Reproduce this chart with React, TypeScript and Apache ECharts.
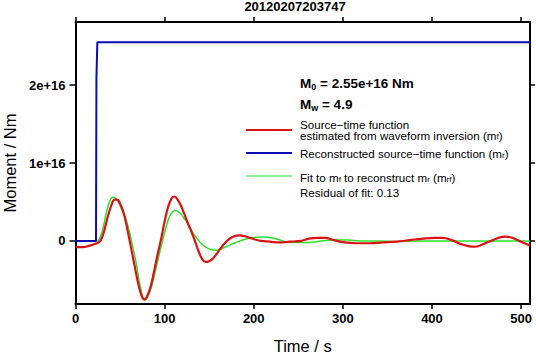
import React, { useEffect, useRef } from "react";
import * as echarts from "echarts";

// Moment values are in units of 1e16 Nm
const stfTime = [0, 8, 16, 24, 28, 32, 36, 40, 44, 47, 50, 54, 58, 62, 66, 70, 74, 77, 80, 84, 88, 92, 96, 100, 104, 108, 111, 114, 118, 122, 126, 130, 134, 138, 142, 146, 150, 154, 160, 166, 172, 178, 184, 190, 198, 208, 218, 228, 240, 253, 262, 272, 280, 290, 302, 315, 330, 345, 360, 375, 390, 403, 412, 422, 432, 442, 448, 456, 466, 475, 482, 490, 500, 510];
const stfMoment = [-0.08, -0.08, -0.06, -0.03, 0.0, 0.12, 0.3, 0.45, 0.53, 0.53, 0.48, 0.36, 0.16, -0.07, -0.3, -0.53, -0.7, -0.75, -0.72, -0.6, -0.4, -0.18, 0.02, 0.25, 0.44, 0.55, 0.57, 0.54, 0.46, 0.35, 0.23, 0.12, 0.0, -0.13, -0.23, -0.27, -0.26, -0.23, -0.14, -0.05, 0.02, 0.06, 0.07, 0.06, 0.03, 0.0, -0.01, -0.02, -0.01, 0.0, 0.03, 0.04, 0.04, 0.01, -0.02, -0.03, -0.03, -0.02, -0.01, 0.01, 0.03, 0.04, 0.04, 0.01, -0.04, -0.07, -0.075, -0.05, 0.0, 0.04, 0.055, 0.04, -0.01, -0.06];

const fitTime = [0, 24, 26, 30, 34, 38, 42, 45, 48, 52, 56, 60, 64, 68, 72, 76, 78, 81, 85, 89, 93, 97, 101, 105, 109, 112, 116, 120, 125, 130, 135, 140, 146, 152, 158, 164, 172, 180, 190, 200, 210, 220, 230, 240, 250, 262, 276, 290, 305, 320, 340, 360, 380, 510];
const fitMoment = [0, 0, 0.01, 0.12, 0.33, 0.5, 0.56, 0.55, 0.5, 0.4, 0.3, 0.14, -0.06, -0.28, -0.55, -0.74, -0.76, -0.72, -0.6, -0.42, -0.22, -0.03, 0.15, 0.3, 0.37, 0.39, 0.37, 0.32, 0.24, 0.14, 0.05, -0.02, -0.08, -0.11, -0.12, -0.1, -0.06, -0.02, 0.02, 0.045, 0.05, 0.04, 0.01, -0.02, -0.02, -0.02, 0.0, 0.01, 0.01, 0.0, 0.0, -0.01, 0.0, 0.0];

const recTime = [0, 23, 23.5, 24.5, 510];
const recMoment = [0, 0, 2.1, 2.55, 2.55];

const xTicks = [0, 100, 200, 300, 400, 500];
const yTicks = [0, 1, 2];

const eventId = "20120207203747";
const m0Text = "2.55e+16 Nm";
const mwText = "4.9";
const residualText = "0.13";

const FONT = "'Liberation Sans', Arial, Helvetica, sans-serif";
const RED = "#dc1212";
const BLUE = "#0c0cb4";
const GREEN = "#2ee02e";

const pairs = (t: number[], v: number[]) => t.map((x, i) => [x, v[i]]);

export default function App() {
  const ref = useRef<HTMLDivElement>(null);
  useEffect(() => {
    if (!ref.current) return;
    const chart = echarts.init(ref.current, null, { renderer: "svg" });
    const axisLine = { show: true, onZero: false, lineStyle: { color: "#000", width: 2 } };
    const tick = { show: true, length: 5, lineStyle: { color: "#000", width: 1.5 } };
    const label = { color: "#000", fontFamily: FONT, fontSize: 13, fontWeight: "bold" as const };
    const txt = (x: number, y: number, text: string, rich: any) => ({
      type: "text",
      x,
      y,
      style: {
        text,
        rich,
        fill: "#000",
        fontFamily: FONT,
        align: "left",
        textAlign: "left",
        verticalAlign: "middle",
        textVerticalAlign: "middle",
      },
    });
    const mainN = { fontFamily: FONT, fontSize: 11.6, lineHeight: 13, fill: "#000" };
    const mainT = { fontFamily: FONT, fontSize: 11.6, lineHeight: 10.5, fill: "#000" };
    const subN = { fontFamily: FONT, fontSize: 8, lineHeight: 10.5, verticalAlign: "bottom", fill: "#000" };
    const mainB = { fontFamily: FONT, fontSize: 13.5, fontWeight: "bold", lineHeight: 16, fill: "#000" };
    const subB = { fontFamily: FONT, fontSize: 9, fontWeight: "bold", lineHeight: 12, verticalAlign: "bottom", fill: "#000" };
    chart.setOption({
      animation: false,
      grid: { left: 75.5, right: 6, top: 22, bottom: 49, outerBoundsMode: "none", containLabel: false },
      xAxis: [
        {
          type: "value",
          min: 0,
          max: 510,
          interval: 100,
          position: "bottom",
          axisLine,
          axisTick: { ...tick, customValues: xTicks },
          axisLabel: { ...label, margin: 8, customValues: xTicks },
          splitLine: { show: false },
          name: "Time / s",
          nameLocation: "middle",
          nameGap: 33,
          nameTextStyle: { color: "#000", fontFamily: FONT, fontSize: 16.5 },
        },
        {
          type: "value",
          min: 0,
          max: 510,
          interval: 100,
          position: "top",
          axisLine,
          axisTick: { ...tick, customValues: xTicks },
          axisLabel: { show: false },
          splitLine: { show: false },
        },
      ],
      yAxis: [
        {
          type: "value",
          min: -0.81,
          max: 2.81,
          position: "left",
          axisLine,
          axisTick: { ...tick, length: 6, customValues: yTicks },
          axisLabel: {
            ...label,
            margin: 10,
            customValues: yTicks,
            formatter: (v: number) => (v === 0 ? "0" : `${v}e+16`),
          },
          splitLine: { show: false },
          name: "Moment / Nm",
          nameLocation: "middle",
          nameGap: 55,
          nameTextStyle: { color: "#000", fontFamily: FONT, fontSize: 16.5 },
        },
        {
          type: "value",
          min: -0.81,
          max: 2.81,
          position: "right",
          axisLine,
          axisTick: { ...tick, customValues: yTicks },
          axisLabel: { show: false },
          splitLine: { show: false },
        },
      ],
      series: [
        {
          type: "line",
          data: pairs(fitTime, fitMoment),
          smooth: 0.4,
          showSymbol: false,
          lineStyle: { color: GREEN, width: 1.5 },
          z: 2,
        },
        {
          type: "line",
          data: pairs(stfTime, stfMoment),
          smooth: 0.4,
          showSymbol: false,
          lineStyle: { color: RED, width: 2.2 },
          z: 3,
        },
        {
          type: "line",
          data: pairs(recTime, recMoment),
          showSymbol: false,
          lineStyle: { color: BLUE, width: 2 },
          z: 4,
        },
      ],
      graphic: [
        {
          type: "text",
          x: 295,
          y: 6,
          style: {
            text: eventId,
            fill: "#000",
            fontFamily: FONT,
            fontSize: 13,
            fontWeight: "bold",
            align: "center",
            textAlign: "center",
            verticalAlign: "middle",
            textVerticalAlign: "middle",
          },
        },
        txt(300, 83, `{m|M}{s|0}{m| = ${m0Text}}`, { m: mainB, s: subB }),
        txt(300, 104, `{m|M}{s|w}{m| = ${mwText}}`, { m: mainB, s: subB }),
        { type: "line", shape: { x1: 246, y1: 130, x2: 292, y2: 130 }, style: { stroke: RED, lineWidth: 2 } },
        { type: "line", shape: { x1: 246, y1: 153, x2: 292, y2: 153 }, style: { stroke: BLUE, lineWidth: 2 } },
        { type: "line", shape: { x1: 246, y1: 176, x2: 292, y2: 176 }, style: { stroke: GREEN, lineWidth: 1.2 } },
        txt(300, 124.5, "{m|Source\u2212time function}", { m: mainT }),
        txt(300, 135.5, "{m|estimated from waveform inversion (m}{s|f}{m|)}", { m: mainT, s: subN }),
        txt(300, 153, "{m|Reconstructed source\u2212time function (m}{s|r}{m|)}", { m: mainN, s: subN }),
        txt(300, 177, "{m|Fit to m}{s|f}{m| to reconstruct m}{s|r}{m| (m}{s|rf}{m|)}", { m: mainN, s: subN }),
        txt(300, 192, `{m|Residual of fit: ${residualText}}`, { m: mainN }),
      ],
    });
    return () => chart.dispose();
  }, []);
  return <div ref={ref} style={{ width: 536, height: 353, position: "absolute", left: 0, top: 0 }} />;
}
